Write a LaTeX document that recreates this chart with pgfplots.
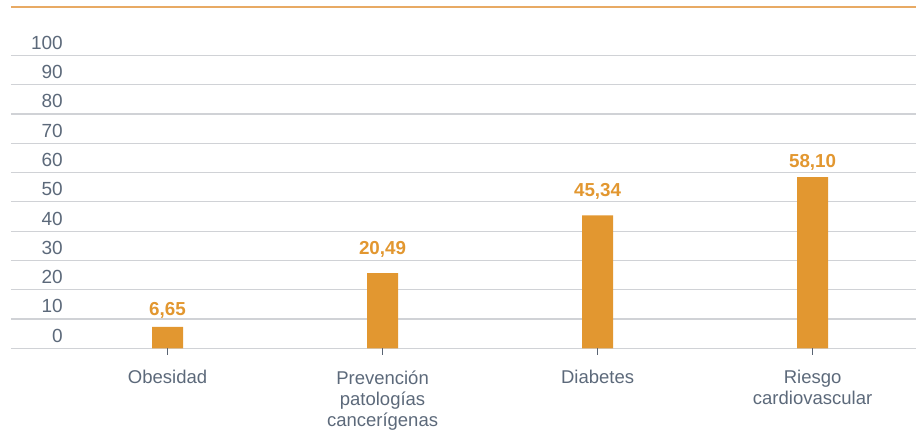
\documentclass[border=0pt]{standalone}
\usepackage{fontspec}
\setmainfont{Liberation Sans}
\usepackage{pgfplots}
\pgfplotsset{compat=1.18}
\definecolor{txtgray}{RGB}{92,105,122}
\definecolor{barorange}{RGB}{226,151,48}
\definecolor{gridgray}{RGB}{208,210,214}
\definecolor{topline}{RGB}{232,170,100}
\definecolor{tickgray}{RGB}{90,100,115}
\begin{document}
\begin{tikzpicture}
\begin{axis}[
  name=ax,
  scale only axis, width=905pt, height=341.3pt,
  xmin=-0.728, xmax=3.481, ymin=0, ymax=116.5,
  axis line style={draw=none},
  xtick pos=bottom, ytick pos=left,
  clip=false,
  tick style={draw=none},
  xtick={0,1,2,3},
  xticklabels={Obesidad,{Prevención\\patologías\\cancerígenas},Diabetes,{Riesgo\\cardiovascular}},
  xticklabel style={align=center, inner sep=0pt, font=\fontsize{18.5}{21}\selectfont, text=txtgray, yshift=-22pt},
  major tick length=6pt,
  ytick={4.3,14.3,...,104.3},
  yticklabels={0,10,20,30,40,50,60,70,80,90,100},
  yticklabel style={anchor=east, inner sep=0pt, xshift=52pt, font=\fontsize{19}{22}\selectfont, text=txtgray},
  /pgf/number format/assume math mode=true,
  extra y ticks={0,10,...,100},
  extra y tick labels={},
  extra y tick style={grid=major, major grid style={gridgray, line width=1.2pt}},
]
\addplot[ybar, bar width=31pt, fill=barorange, draw=none] coordinates {(0,7.3) (1,25.7) (2,45.4) (3,58.4)};
\addplot[ycomb, draw=tickgray, line width=1.5pt, mark=none] coordinates {(0,-2.2) (1,-2.2) (2,-2.2) (3,-2.2)};
\addplot[draw=none, mark=none, nodes near coords, point meta=explicit symbolic,
  nodes near coords style={anchor=south, inner sep=0pt, text=barorange, font=\bfseries\fontsize{18.8}{20}\selectfont}]
  coordinates {(0,10.3) [6{,}65] (1,30.8) [20{,}49] (2,50.9) [45{,}34] (3,60.6) [58{,}10]};
\draw[topline, line width=1.3pt] (rel axis cs:0,1) -- (rel axis cs:1,1);
\end{axis}
\pgfresetboundingbox
\useasboundingbox ([xshift=-11pt,yshift=-89.7pt]ax.south west) rectangle ([yshift=7pt]ax.north east);
\end{tikzpicture}
\end{document}
